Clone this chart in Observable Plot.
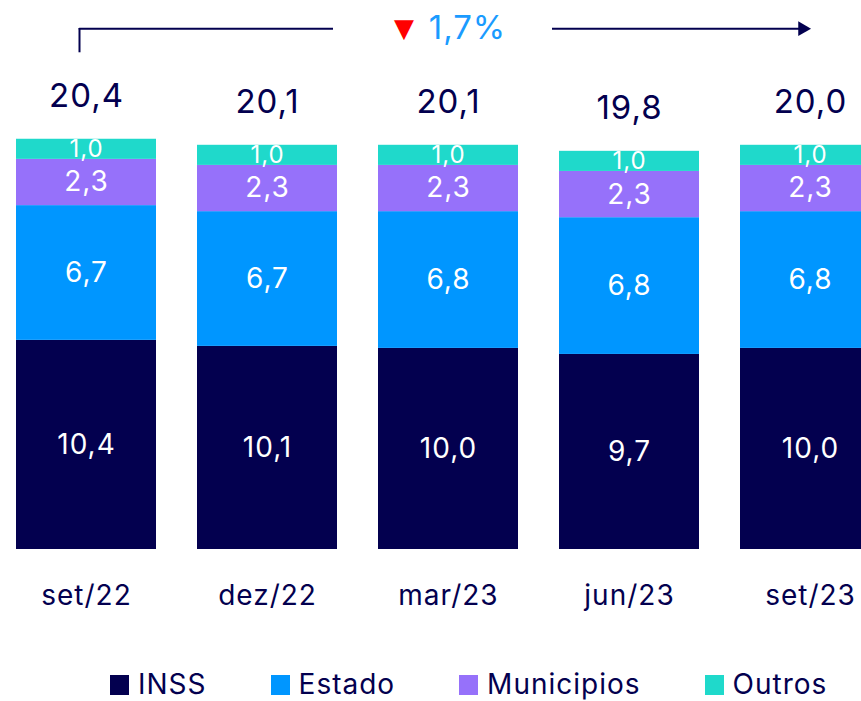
<!DOCTYPE html>
<html><head><meta charset="utf-8">
<script src="https://cdn.jsdelivr.net/npm/d3@7"></script>
<script src="https://cdn.jsdelivr.net/npm/@observablehq/plot@0.6"></script>
<style>
html,body{margin:0;padding:0;background:#fff;overflow:hidden;}
body{position:relative;width:861px;height:701px;font-family:Inter,"Open Sans",sans-serif;color:#03004f;}
svg text{letter-spacing:1px;}
#legend{position:absolute;left:110px;top:670px;display:flex;align-items:center;gap:64px;font-size:28px;line-height:29px;letter-spacing:1px;white-space:nowrap;}
#legend .item{display:flex;align-items:center;}
#legend .sw{width:19px;height:20px;margin-right:9px;flex:none;}
</style></head><body>
<div id="chart"></div>
<div id="legend"></div>
<script>
const categories = ["set/22","dez/22","mar/23","jun/23","set/23"];
const inss       = [10.4, 10.1, 10.0, 9.7, 10.0];
const estado     = [6.7, 6.7, 6.8, 6.8, 6.8];
const municipios = [2.3, 2.3, 2.3, 2.3, 2.3];
const outros     = [1.0, 1.0, 1.0, 1.0, 1.0];
const totals     = [20.4, 20.1, 20.1, 19.8, 20.0];
const seriesNames  = ["INSS","Estado","Municipios","Outros"];
const seriesColors = ["#03004f","#0096ff","#9671fa","#1fd9cb"];
const changeLabel = "1,7%";

const navy = "#03004f";
const fmt = v => v.toFixed(1).replace(".", ",");
const seriesValues = [inss, estado, municipios, outros];
const rows = categories.flatMap((c, i) => seriesNames.map((s, j) => ({cat: c, series: s, value: seriesValues[j][i]})));
const totRows = categories.map((c, i) => ({cat: c, sum: seriesValues.reduce((a, arr) => a + arr[i], 0), label: fmt(totals[i])}));
const ann = [{}];
const yArrow = 25.9, yTick = 24.7;

const plot = Plot.plot({
  width: 861, height: 640,
  marginTop: 0, marginBottom: 91, marginLeft: 0, marginRight: 0,
  style: {fontFamily: "Inter, 'Open Sans', sans-serif", background: "white"},
  x: {domain: categories, range: [16, 882], paddingInner: 0.2287, paddingOuter: 0, align: 0, label: null},
  y: {domain: [0, 27.3], range: [549, 0], axis: null},
  color: {domain: seriesNames, range: seriesColors},
  marks: [
    Plot.barY(rows, Plot.stackY({x: "cat", y: "value", fill: "series", order: seriesNames})),
    Plot.text(rows.filter(d => d.series !== "Outros"), Plot.stackY({x: "cat", y: "value", z: "series", order: seriesNames.slice(0,3), text: d => fmt(d.value), fill: "white", fontSize: 28})),
    Plot.text(rows, Plot.stackY({x: "cat", y: "value", z: "series", order: seriesNames, text: d => d.series === "Outros" ? fmt(d.value) : "", fill: "white", fontSize: 24})),
    Plot.axisX({tickSize: 0, tickPadding: 36, fontSize: 28, fill: navy, label: null}),
    // annotation arrow
    Plot.arrow(ann, {x1: () => categories[0], x2: () => categories[categories.length-1], y1: yArrow, y2: yArrow, dx: -7, stroke: navy, strokeWidth: 2, headLength: 0}),
    Plot.ruleX(ann, {x: () => categories[0], y1: yTick, y2: yArrow, dx: -7, stroke: navy, strokeWidth: 2}),
    Plot.dot(ann, {x: () => categories[categories.length-1], y: yArrow, dx: -8, symbol: "triangle", rotate: 90, r: 5.5, fill: navy}),
    Plot.tickY(ann, {x: () => categories[2], y: yArrow, insetLeft: -45, insetRight: -34, stroke: "white", strokeWidth: 8}),
    Plot.text(ann, {x: () => categories[2], y: yArrow, text: () => "▼", dx: -44, dy: 0, fontSize: 26, fill: "#ff0000", fontFamily: "DejaVu Sans"}),
    Plot.text(ann, {x: () => categories[2], y: yArrow, text: () => changeLabel, dx: 19, fontSize: 33, fill: "#1a9bff"}),
    Plot.text(totRows, {x: "cat", y: "sum", text: "label", dy: -43, fontSize: 33, fill: navy})
  ]
});
document.getElementById("chart").appendChild(plot);

const legend = document.getElementById("legend");
seriesNames.forEach((s, i) => {
  const it = document.createElement("div"); it.className = "item";
  const sw = document.createElement("div"); sw.className = "sw"; sw.style.background = seriesColors[i];
  const tx = document.createElement("span"); tx.textContent = s;
  it.appendChild(sw); it.appendChild(tx); legend.appendChild(it);
});
</script>
</body></html>
